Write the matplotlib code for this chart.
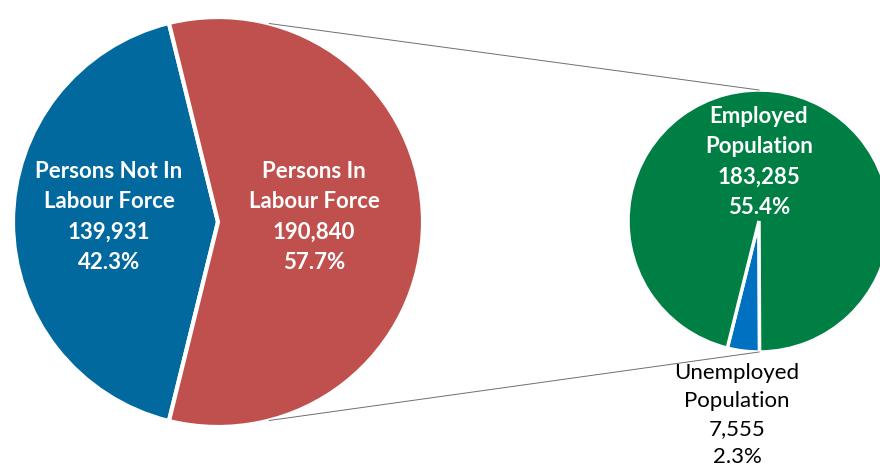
import matplotlib.pyplot as plt
import numpy as np

# labour force split (left pie) and its breakdown (right pie)
lf_labels = ["Persons Not In\nLabour Force", "Persons In\nLabour Force"]
lf_values = [139931, 190840]
lf_pcts = [42.3, 57.7]
lf_colors = ["#02699E", "#C0504D"]

sub_labels = ["Unemployed\nPopulation", "Employed\nPopulation"]
sub_values = [7555, 183285]
sub_pcts = [2.3, 55.4]
sub_colors = ["#0070C0", "#007F45"]

plt.rcParams['font.family'] = ['Lato', 'DejaVu Sans']

W, H = 880, 470
fig = plt.figure(figsize=(8.8, 4.7), dpi=100)
ax = fig.add_axes([0, 0, 1, 1])

c1, r1 = (218, H - 222), 205
c2, r2 = (759, H - 221), 131

# left pie, not-in-labour-force wedge centred on the left
half = 180 * lf_values[0] / sum(lf_values)
ax.pie(lf_values, colors=lf_colors, startangle=180 - half,
       center=c1, radius=r1, frame=True,
       wedgeprops=dict(edgecolor='white', linewidth=3))

# right pie, unemployed sliver near the bottom
ax.pie(sub_values, colors=sub_colors, startangle=256,
       center=c2, radius=r2, frame=True,
       wedgeprops=dict(edgecolor='white', linewidth=2.5))

ax.set_xlim(0, W)
ax.set_ylim(0, H)
ax.set_aspect('equal')
ax.axis('off')

# connector lines between the two pies
a = np.deg2rad(75.5)
x0 = c1[0] + r1 * np.cos(a)
ax.plot([x0, c2[0]], [c1[1] + r1 * np.sin(a), c2[1] + r2], color='#6F6F6F', lw=0.7)
ax.plot([x0, c2[0]], [c1[1] - r1 * np.sin(a), c2[1] - r2], color='#6F6F6F', lw=0.7)

def lab(name, val, pct):
    return f"{name}\n{val:,}\n{pct}%"

style = dict(fontsize=16, ha='center', va='center', linespacing=1.55)
ax.text(109, H - 217, lab(lf_labels[0], lf_values[0], lf_pcts[0]),
        color='white', fontweight='bold', **style)
ax.text(314, H - 217, lab(lf_labels[1], lf_values[1], lf_pcts[1]),
        color='white', fontweight='bold', **style)
ax.text(759, H - 162, lab(sub_labels[1], sub_values[1], sub_pcts[1]),
        color='white', fontweight='bold', **style)
ax.text(737, 3, lab(sub_labels[0], sub_values[0], sub_pcts[0]),
        color='black', fontsize=16, ha='center', va='bottom', linespacing=1.5)

fig.savefig("out.png", dpi=100)
